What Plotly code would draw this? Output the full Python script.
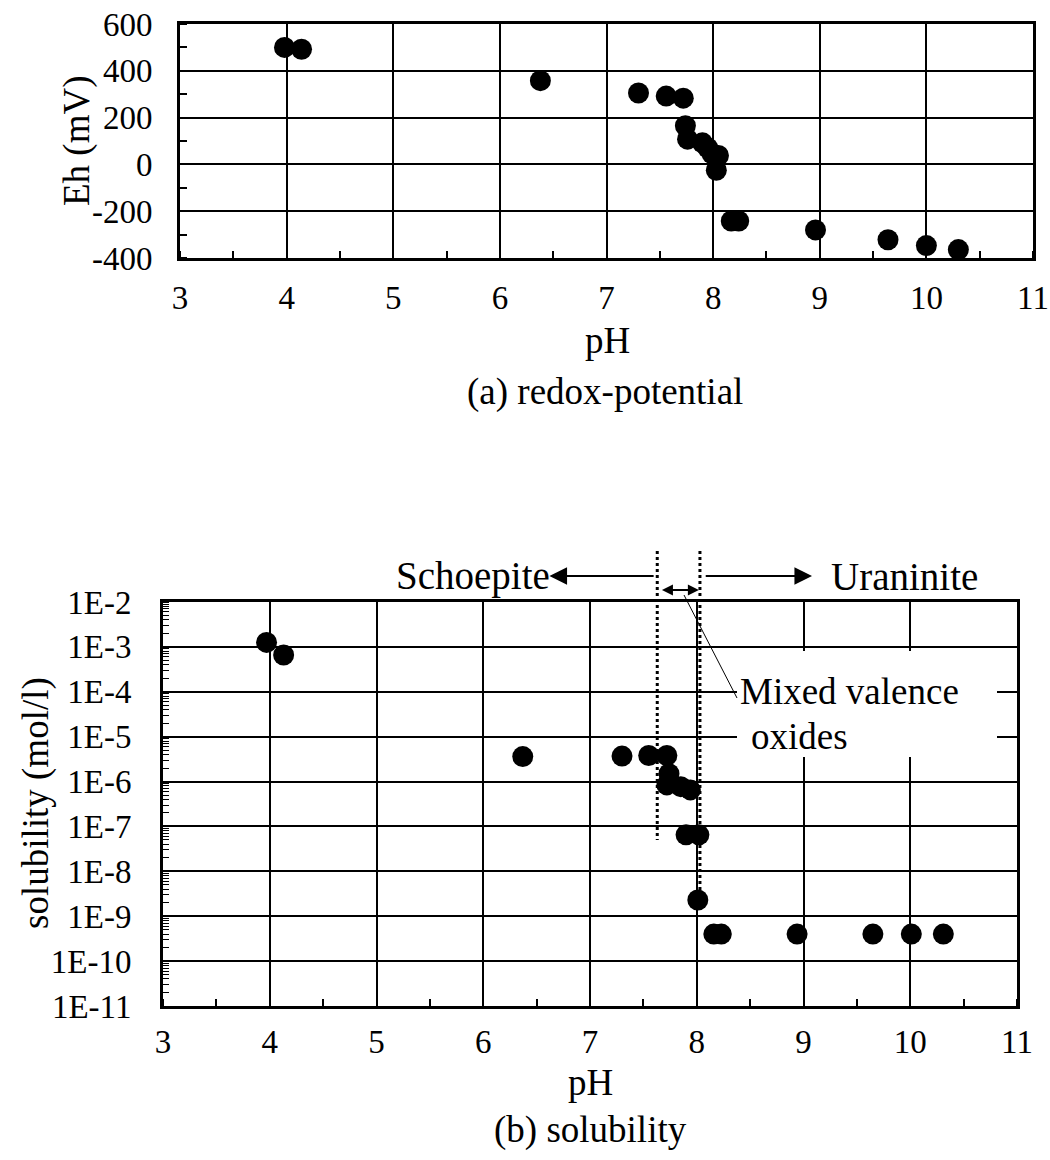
import plotly.graph_objects as go

# ---- (a) redox potential vs pH ----
ph_eh = [3.98, 4.14, 6.38, 7.30, 7.56, 7.72, 7.74, 7.76, 7.90, 7.95, 7.99, 8.05, 8.03,
         8.17, 8.24, 8.96, 9.64, 10.00, 10.30]
eh_mv = [500, 492, 358, 305, 292, 283, 165, 108, 92, 70, 45, 38, -25,
         -242, -242, -280, -322, -347, -364]
eh_ticks = [-400, -200, 0, 200, 400, 600]
eh_ticktext = ["-400", "-200", "0", "200", "400", "600"]

# ---- (b) solubility vs pH ----
ph_sol = [3.97, 4.13, 6.37, 7.30, 7.55, 7.72, 7.74, 7.72, 7.85, 7.94, 7.90, 8.02, 8.01,
          8.16, 8.23, 8.94, 9.65, 10.01, 10.31]
solubility = [1.26e-3, 6.6e-4, 3.6e-6, 3.7e-6, 3.8e-6, 3.8e-6, 1.5e-6, 8.4e-7, 7.7e-7,
              6.5e-7, 6.5e-8, 6.5e-8, 2.3e-9, 4e-10, 4e-10, 4e-10, 4e-10, 4e-10, 4e-10]
sol_ticks = [1e-2, 1e-3, 1e-4, 1e-5, 1e-6, 1e-7, 1e-8, 1e-9, 1e-10, 1e-11]
sol_ticktext = ["1E-2", "1E-3", "1E-4", "1E-5", "1E-6", "1E-7", "1E-8", "1E-9", "1E-10", "1E-11"]
ph_ticks = [3, 4, 5, 6, 7, 8, 9, 10, 11]

# phase boundaries (pH)
schoepite_limit = 7.63
uraninite_limit = 8.03

W, H = 1050, 1160
FONT = "Liberation Serif"
TICK = 33
TEXT = 37


def fx(px):
    return px / W


def fy(py):
    return 1 - py / H


fig = go.Figure()
fig.add_trace(go.Scatter(x=ph_eh, y=eh_mv, mode="markers", xaxis="x", yaxis="y",
                         marker=dict(size=21, color="black"), showlegend=False))
fig.add_trace(go.Scatter(x=ph_sol, y=solubility, mode="markers", xaxis="x2", yaxis="y2",
                         marker=dict(size=21, color="black"), showlegend=False))

axis_common = dict(showline=True, linecolor="black", mirror=True, showgrid=True,
                   gridcolor="black", zeroline=False, ticks="", color="black",
                   automargin=False,
                   tickfont=dict(family=FONT, size=TICK, color="black"))

fig.update_layout(
    width=W, height=H, margin=dict(l=0, r=0, t=0, b=0, autoexpand=False),
    paper_bgcolor="white", plot_bgcolor="white",
    font=dict(family=FONT, color="black"),
    xaxis=dict(domain=[fx(180), fx(1033)], anchor="y", range=[3, 11],
               tickvals=ph_ticks, linewidth=3, gridwidth=2, ticklabelstandoff=8,
               minor=dict(ticks="inside", dtick=0.5, ticklen=7, tickcolor="black",
                          tickwidth=1.5, showgrid=False),
               **axis_common),
    yaxis=dict(domain=[fy(258), fy(24)], anchor="x", range=[-400, 600],
               tickvals=eh_ticks, ticktext=eh_ticktext, linewidth=3, gridwidth=2,
               ticklabelstandoff=18,
               minor=dict(ticks="inside", dtick=100, ticklen=7, tickcolor="black",
                          tickwidth=1.5, showgrid=False),
               **axis_common),
    xaxis2=dict(domain=[fx(163), fx(1017)], anchor="y2", range=[3, 11],
                tickvals=ph_ticks, linewidth=3, gridwidth=1.5, ticklabelstandoff=4,
                minor=dict(ticks="inside", dtick=0.5, ticklen=7, tickcolor="black",
                           tickwidth=1.5, showgrid=False),
                **axis_common),
    yaxis2=dict(domain=[fy(1006), fy(602)], anchor="x2", type="log", range=[-11, -2],
                tickvals=sol_ticks, ticktext=sol_ticktext, linewidth=3, gridwidth=1.5,
                ticklabelstandoff=22,
                minor=dict(ticks="inside", dtick="D1", ticklen=6, tickcolor="black",
                           tickwidth=1.2, showgrid=False),
                **axis_common),
)

shapes = []
# white panel behind the "Mixed valence oxides" label
shapes.append(dict(type="rect", xref="paper", yref="paper", x0=fx(737), x1=fx(997),
                   y0=fy(757), y1=fy(651), fillcolor="white", line=dict(width=0),
                   layer="above"))
# dotted phase boundaries
shapes.append(dict(type="line", xref="x2", yref="paper", x0=schoepite_limit, x1=schoepite_limit,
                   y0=fy(551), y1=fy(840), line=dict(color="black", width=3, dash="dot")))
shapes.append(dict(type="line", xref="x2", yref="paper", x0=uraninite_limit, x1=uraninite_limit,
                   y0=fy(551), y1=fy(910), line=dict(color="black", width=3, dash="dot")))
# leader line to the mixed-oxide label
shapes.append(dict(type="line", xref="paper", yref="paper", x0=fx(684), y0=fy(595),
                   x1=fx(737), y1=fy(698), line=dict(color="black", width=1)))
fig.update_layout(shapes=shapes)

ann = []


def label(text, px, py, anchor="center", angle=0, size=TEXT):
    return dict(text=text, xref="paper", yref="paper", x=fx(px), y=fy(py),
                xanchor=anchor, yanchor="middle", textangle=angle, showarrow=False,
                font=dict(family=FONT, size=size, color="black"))


# axis titles and captions
ann.append(label("Eh (mV)", 77, 141, angle=-90))
ann.append(label("pH", 607, 340))
ann.append(label("(a) redox-potential", 605, 392))
ann.append(label("solubility (mol/l)", 36, 803, angle=-90))
ann.append(label("pH", 590, 1082))
ann.append(label("(b) solubility", 590, 1130))
# phase labels
ann.append(label("Schoepite", 552, 576, anchor="right", size=39))
ann.append(label("Uraninite", 829, 576, anchor="left", size=39))
ann.append(label("Mixed valence", 738, 691, anchor="left"))
ann.append(label("oxides", 749, 736, anchor="left"))
# arrows (horizontal: tail given in pH, zero vertical pixel offset)
arrow = dict(showarrow=True, arrowhead=2, arrowwidth=2.2, arrowcolor="black",
             text="", xref="x2", yref="paper", axref="x2", ayref="pixel", ay=0)
ann.append(dict(x=6.62, y=fy(576), ax=schoepite_limit - 0.02, arrowsize=1.6, **arrow))
ann.append(dict(x=9.08, y=fy(576), ax=uraninite_limit + 0.04, arrowsize=1.6, **arrow))
ann.append(dict(x=uraninite_limit - 0.01, y=fy(590), ax=schoepite_limit + 0.03,
                arrowside="end+start", arrowsize=1.0, **arrow))
fig.update_layout(annotations=ann)

fig.write_html("out.html")
